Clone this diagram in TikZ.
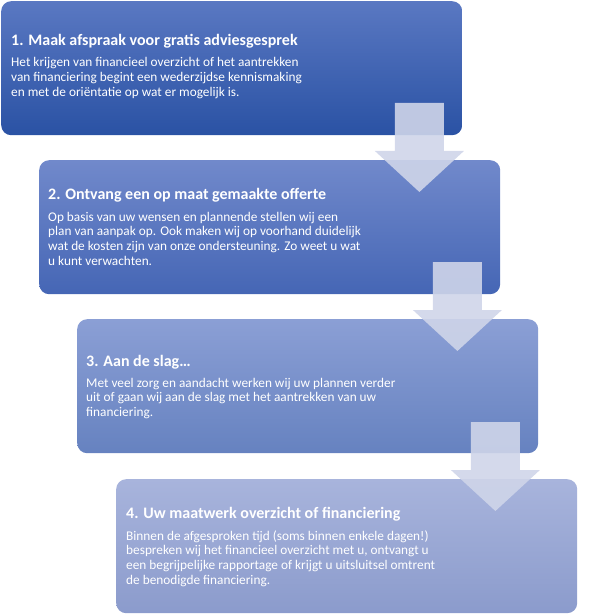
\documentclass[tikz,border=0pt]{standalone}
\usepackage{fontspec}
\setmainfont{Carlito}
\usetikzlibrary{calc}
\begin{document}
\begin{tikzpicture}[x=1pt,y=-1pt,
  stepbox/.style={rounded corners=10pt, minimum width=461pt, minimum height=134pt,
    anchor=north west, inner sep=0pt, draw=none},
  steptitle/.style={anchor=base west, inner sep=0pt, text=white,
    font=\fontsize{16}{18}\selectfont\bfseries},
  % multi-line node: its base is the baseline of the last line
  stepbody/.style={anchor=base west, inner sep=0pt, text=white, align=left,
    font=\fontsize{13.3}{14.8}\selectfont},
  flowarrow/.style={fill=arrowc, fill opacity=0.9, draw=none}
]
\definecolor{arrowc}{RGB}{207,213,233}
\definecolor{c1t}{HTML}{5A78C2}\definecolor{c1b}{HTML}{2A52A4}
\definecolor{c2t}{HTML}{7189CB}\definecolor{c2b}{HTML}{4566B5}
\definecolor{c3t}{HTML}{8B9FD5}\definecolor{c3b}{HTML}{6682C0}
\definecolor{c4t}{HTML}{A8B4DC}\definecolor{c4b}{HTML}{8B9BCC}
\useasboundingbox (0,0) rectangle (616,615);

\node[stepbox, top color=c1t, bottom color=c1b] (b1) at (1,1) {};
\node[stepbox, top color=c2t, bottom color=c2b] (b2) at (39,160) {};
\node[stepbox, top color=c3t, bottom color=c3b] (b3) at (77,319) {};
\node[stepbox, top color=c4t, bottom color=c4b] (b4) at (116,479) {};

\node[steptitle] (t1) at (11,46) {1. Maak afspraak voor gratis adviesgesprek};
\node[stepbody] (d1) at (11,67+2*14.8) {Het krijgen van financieel overzicht of het aantrekken\\van financiering begint een wederzijdse kennismaking\\en met de oriëntatie op wat er mogelijk is.};

\node[steptitle] (t2) at (48,199) {2. Ontvang een op maat gemaakte offerte};
\node[stepbody] (d2) at (48,221+3*14.8) {Op basis van uw wensen en plannende stellen wij een\\plan van aanpak op. Ook maken wij op voorhand duidelijk\\wat de kosten zijn van onze ondersteuning. Zo weet u wat\\u kunt verwachten.};

\node[steptitle] (t3) at (86,366) {3. Aan de slag…};
\node[stepbody] (d3) at (86,387+2*14.8) {Met veel zorg en aandacht werken wij uw plannen verder\\uit of gaan wij aan de slag met het aantrekken van uw\\financiering.};

\node[steptitle] (t4) at (126,518) {4. Uw maatwerk overzicht of financiering};
\node[stepbody] (d4) at (126,540+3*14.8) {Binnen de afgesproken tijd (soms binnen enkele dagen!)\\bespreken wij het financieel overzicht met u, ontvangt u\\een begrijpelijke rapportage of krijgt u uitsluitsel omtrent\\de benodigde financiering.};

% arrows: tip 43 left of upper box's right edge, 32 below lower box top
\foreach \u/\l/\n in {b1/b2/a1, b2/b3/a2, b3/b4/a3}{
  \path ($(\u.east|-\l.north)+(-43,32)$) coordinate (\n tip);
  \fill[flowarrow] (\n tip) -- ++(-44.5,-41) -- ++(20,0) -- ++(0,-48) -- ++(49,0)
    -- ++(0,48) -- ++(20,0) -- cycle;
}
\end{tikzpicture}
\end{document}
